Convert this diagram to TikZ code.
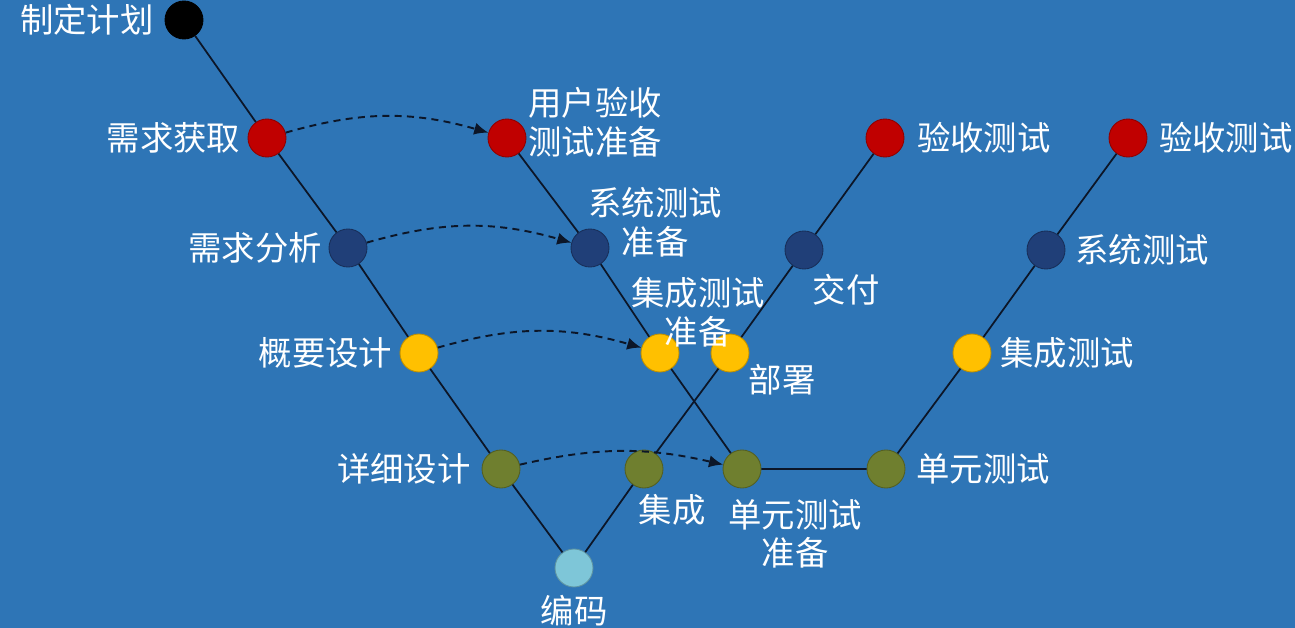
\documentclass[tikz,border=0pt]{standalone}
\usepackage{fontspec}
\setmainfont{Noto Sans CJK SC}
\usepackage{xcolor}
\usetikzlibrary{positioning,arrows.meta}

\definecolor{bgblue}{HTML}{2E75B6}
\definecolor{linecol}{HTML}{0C1628}
\definecolor{redc}{HTML}{C00000}
\definecolor{navyc}{HTML}{203F78}
\definecolor{yellowc}{HTML}{FFC000}
\definecolor{olivec}{HTML}{6F7F2F}
\definecolor{cyanc}{HTML}{7EC6D8}

\begin{document}
\begin{tikzpicture}[x=0.02cm,y=-0.02cm,
  stage/.style={circle, draw=#1!75!black, fill=#1, minimum size=0.76cm, inner sep=0pt, line width=0.5pt},
  lbl/.style={text=white, font=\fontsize{19}{22}\selectfont, inner sep=0pt, align=center},
  link/.style={draw=linecol, line width=1pt},
  prep/.style={draw=linecol, line width=1.1pt, dash pattern=on 4pt off 3pt, -{Latex[length=8pt,width=7pt]}}
]
\fill[bgblue] (0,0) rectangle (1295,628);
\useasboundingbox (0,0) rectangle (1295,628);

% development side
\node[stage=black] (plan) at (184,20) {};
\node[stage=redc] (reqget) at (267,138) {};
\node[stage=navyc] (reqana) at (348,248) {};
\node[stage=yellowc] (hld) at (419,353) {};
\node[stage=olivec] (lld) at (501,469) {};
\node[stage=cyanc] (code) at (574,568) {};
\node[stage=olivec] (integ) at (644,469) {};
\node[stage=yellowc] (deploy) at (730,353) {};
\node[stage=navyc] (deliver) at (804,250) {};
\node[stage=redc] (accept) at (885,138) {};

% test side
\node[stage=redc] (uatp) at (507,138) {};
\node[stage=navyc] (sysp) at (590,248) {};
\node[stage=yellowc] (itp) at (660,353) {};
\node[stage=olivec] (utp) at (742,469) {};
\node[stage=olivec] (ut) at (886,469) {};
\node[stage=yellowc] (it) at (972,353) {};
\node[stage=navyc] (st) at (1046,250) {};
\node[stage=redc] (at) at (1128,138) {};

\draw[link] (plan) -- (reqget) -- (reqana) -- (hld) -- (lld) -- (code)
  -- (integ) -- (deploy) -- (deliver) -- (accept);
\draw[link] (uatp) -- (sysp) -- (itp) -- (utp) -- (ut) -- (it) -- (st) -- (at);

\draw[prep] (reqget) to[bend left=16] (uatp);
\draw[prep] (reqana) to[bend left=16] (sysp);
\draw[prep] (hld) to[bend left=16] (itp);
\draw[prep] (lld) to[bend left=13] (utp);

% labels
\node[lbl, left=6pt of plan] (planl) {制定计划};
\node[lbl, left=4pt of reqget] (reqgetl) {需求获取};
\node[lbl, left=3.5pt of reqana] (reqanal) {需求分析};
\node[lbl, left=4pt of hld] (hldl) {概要设计};
\node[lbl, left=6pt of lld] (lldl) {详细设计};
\node[lbl, below=4pt of code] (codel) {编码};
\node[lbl] (integl) at ([shift={(28,41)}]integ.center) {集成};
\node[lbl] (deployl) at ([shift={(52,27)}]deploy.center) {部署};
\node[lbl] (deliverl) at ([shift={(42,40)}]deliver.center) {交付};
\node[lbl, right=7pt of accept] (acceptl) {验收测试};

\node[lbl] (uatpl) at ([shift={(88,-16)}]uatp.center) {用户验收\\测试准备};
\node[lbl] (syspl) at ([shift={(65,-26)}]sysp.center) {系统测试\\准备};
\node[lbl] (itpl) at ([shift={(38,-41)}]itp.center) {集成测试\\准备};
\node[lbl] (utpl) at ([shift={(53,65)}]utp.center) {单元测试\\准备};
\node[lbl, right=6pt of ut] (utl) {单元测试};
\node[lbl, right=5pt of it] (itl) {集成测试};
\node[lbl, right=5.5pt of st] (stl) {系统测试};
\node[lbl, right=6.5pt of at] (atl) {验收测试};
\end{tikzpicture}
\end{document}
